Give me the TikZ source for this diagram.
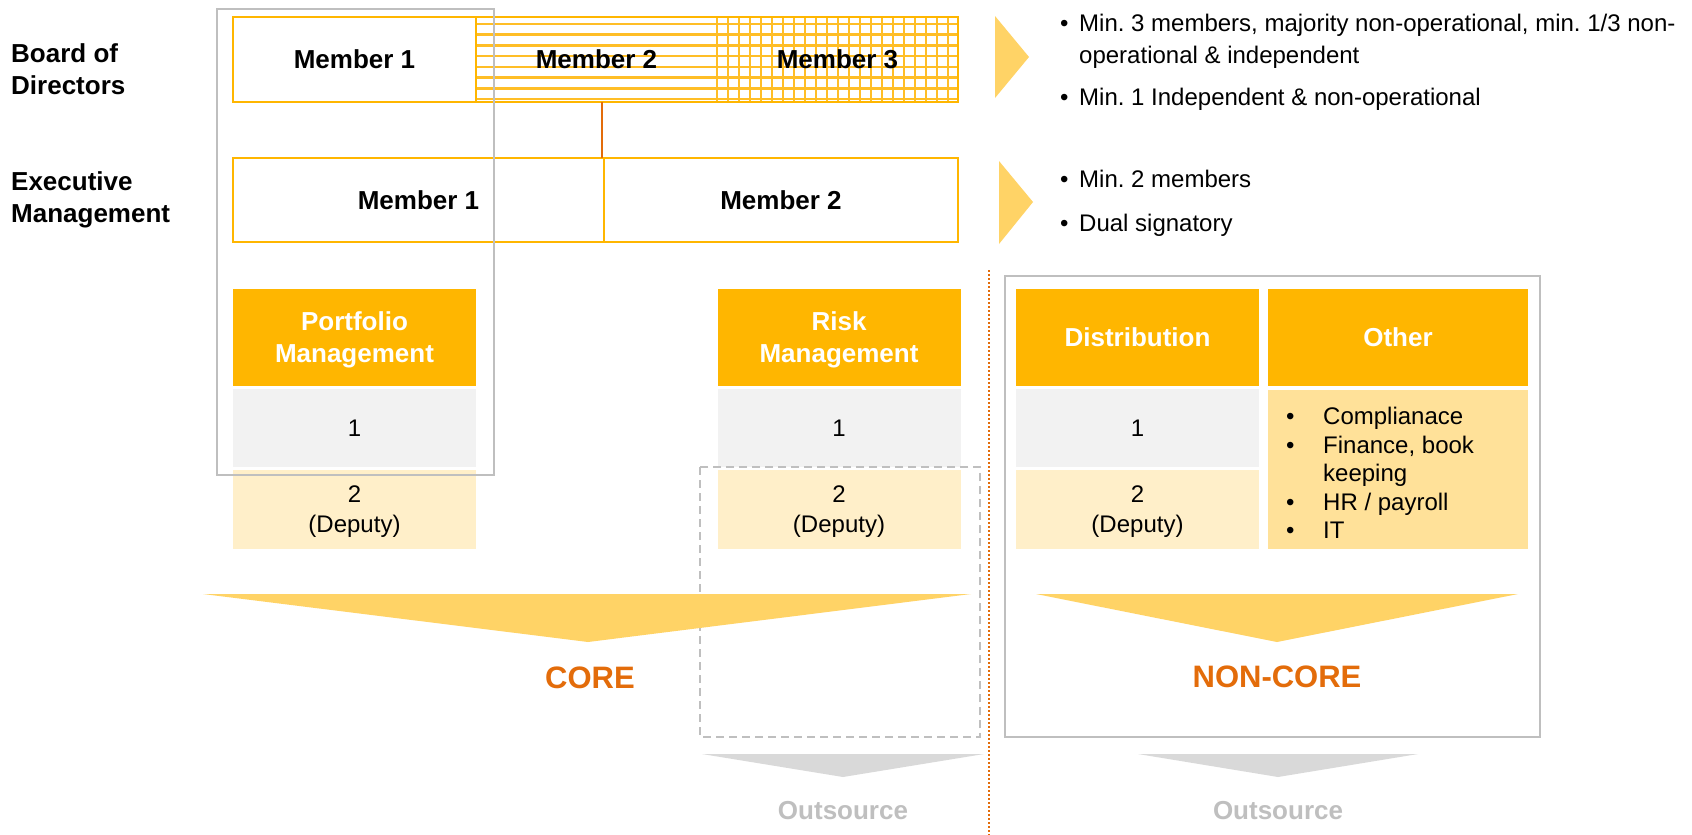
\documentclass[tikz,border=0pt]{standalone}
\usepackage{fontspec}
\setmainfont{Liberation Sans}
\frenchspacing
\definecolor{orng}{HTML}{FFB600}
\definecolor{hatchc}{HTML}{FFBE26}
\definecolor{dkor}{HTML}{E36C0A}
\definecolor{gfill}{HTML}{F2F2F2}
\definecolor{depc}{HTML}{FFEFC9}
\definecolor{othc}{HTML}{FFE199}
\definecolor{chev}{HTML}{FFD366}
\definecolor{frm}{HTML}{BFBFBF}
\definecolor{gtri}{HTML}{D9D9D9}
\newcommand\myB{\bfseries\fontsize{26}{32}\selectfont}
\newcommand\myR{\fontsize{24}{30}\selectfont}
\newcommand\myBig{\bfseries\fontsize{31}{36}\selectfont}
\begin{document}
\begin{tikzpicture}[x=1pt,y=-1pt,
  cell/.style={inner sep=0pt, outer sep=0pt, minimum width=243pt, align=center, font=\myR, text depth=0pt},
  hdr/.style={cell, fill=orng, text=white, font=\myB, minimum height=97pt},
  one/.style={cell, fill=gfill, minimum height=78pt},
  deput/.style={cell, fill=depc, minimum height=79pt},
  mem/.style={inner sep=0pt, outer sep=0pt, font=\myB, minimum height=85pt},
  memb/.style={mem, draw=orng, line width=2pt},
  hatch/.style={draw=hatchc, line width=2.6pt},
  lbl/.style={inner sep=0pt, anchor=west, align=left, font=\myB},
  bul/.style={inner sep=0pt, anchor=base west, font=\fontsize{24}{28}\selectfont},
  frame/.style={draw=frm, line width=2.5pt},
  conn/.style={draw=dkor, line width=1.5pt},
  big/.style={inner sep=0pt, font=\myBig}
]
\useasboundingbox (0,0) rectangle (1692,835);
\fill[white] (0,0) rectangle (1692,835);

% left labels
\node[lbl] (lbod) at (11,69) {Board of\\Directors};
\node[lbl] (lexe) at (11,199.5) {Executive\\Management};

% board hatching
\begin{scope}
  \clip (476,17) rectangle (958,102);
  \foreach \yy in {24,34.7,...,101} \draw[hatch] (476,\yy) -- (958,\yy);
  \foreach \xx in {717,728,...,960} \draw[hatch] (\xx,17) -- (\xx,102);
\end{scope}
\node[memb, minimum width=243pt] (bm1) at (354.5,59.5) {Member 1};
\node[mem, minimum width=241pt] (bm2) at (596.5,59.5) {Member 2};
\node[mem, minimum width=241pt] (bm3) at (837.5,59.5) {Member 3};
\draw[draw=orng, line width=2pt] (bm2.north west) rectangle (bm3.south east);

% executive management
\node[memb, minimum width=371pt, minimum height=84pt] (em1) at (418.5,200) {Member 1};
\node[memb, minimum width=354pt, minimum height=84pt] (em2) at (781,200) {Member 2};

% connector
\coordinate (c1) at (602,102);
\draw[conn] (c1) -- (c1 |- em1.north);

% chevrons
\fill[chev] (995,16) -- (1029,57) -- (995,98) -- cycle;
\fill[chev] (999,161) -- (1033,202) -- (999,244) -- cycle;

% bullets
\node[bul] (b1d) at (1060,31) {•};
\node[bul] (b1) at (1079,31) {Min. 3 members, majority non-operational, min. 1/3 non-};
\node[bul] (b1b) at (1079,63) {operational \& independent};
\node[bul] (b2d) at (1060,105) {•};
\node[bul] (b2) at (1079,105) {Min. 1 Independent \& non-operational};
\node[bul] (b3d) at (1060,187) {•};
\node[bul] (b3) at (1079,187) {Min. 2 members};
\node[bul] (b4d) at (1060,231) {•};
\node[bul] (b4) at (1079,231) {Dual signatory};

% columns
\node[hdr] (pmh) at (354.5,337.5) {Portfolio\\Management};
\node[one] (pm1) at (354.5,428) {1};
\node[deput] (pm2) at (354.5,509.5) {2\\(Deputy)};

\node[hdr] (rmh) at (839,337.5) {Risk\\Management};
\node[one] (rm1) at (839,428) {1};
\node[deput] (rm2) at (839,509.5) {2\\(Deputy)};

\node[hdr] (dih) at (1137.5,337.5) {Distribution};
\node[one] (di1) at (1137.5,428) {1};
\node[deput] (di2) at (1137.5,509.5) {2\\(Deputy)};

\node[hdr, minimum width=260pt] (oth) at (1398,337.5) {Other};
\node[cell, fill=othc, minimum width=260pt, minimum height=159pt] (otc) at (1398,469.5) {};
\node[inner sep=0pt, anchor=west, align=left, font=\fontsize{24}{28.5}\selectfont] (otl) at (1286,473)
  {\makebox[37pt][l]{•}Complianace\\\makebox[37pt][l]{•}Finance, book\\\hspace*{37pt}keeping\\\makebox[37pt][l]{•}HR / payroll\\\makebox[37pt][l]{•}IT};

% frames
\draw[frame] (1005,276) rectangle (1540,737);
\draw[draw=frm, line width=2pt, dash pattern=on 8pt off 5pt] (700,467) rectangle (980,737);
\draw[draw=dkor, line width=1.5pt, dash pattern=on 1.5pt off 2.5pt] (989,270) -- (989,835);

% big triangles
\fill[chev] (203,594) -- (971,594) -- (588,642) -- cycle;
\fill[chev] (1036,594) -- (1518,594) -- (1277,642) -- cycle;
\fill[gtri] (702,754) -- (984,754) -- (843,777) -- cycle;
\fill[gtri] (1138,754) -- (1418,754) -- (1278,777) -- cycle;

\node[big, text=dkor] (core) at (590,678) {CORE};
\node[big, text=dkor] (ncore) at (1277,677) {NON-CORE};
\node[inner sep=0pt, font=\myB, text=frm] (out1) at (843,811) {Outsource};
\node[inner sep=0pt, font=\myB, text=frm] (out2) at (1278,811) {Outsource};

% member 1 frame
\draw[frame] (217,9) rectangle (494,475);
\end{tikzpicture}
\end{document}
